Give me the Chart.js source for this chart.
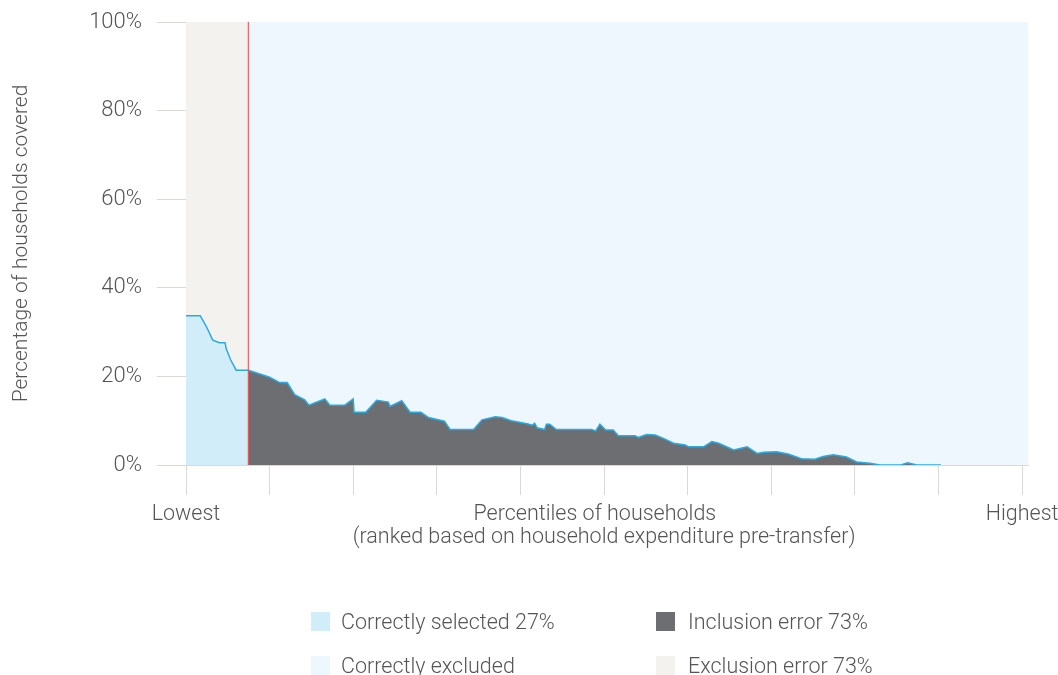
<!DOCTYPE html>
<html lang="en">
<head>
  <meta charset="UTF-8">
  <title>Targeting coverage</title>
  <script src="https://cdn.jsdelivr.net/npm/chart.js"></script>
  <style>
    body {
      margin: 0;
      background: #fff;
      font-family: 'Roboto', 'Liberation Sans', sans-serif;
      font-weight: 300;
      color: #555557;
    }
    .wrap {
      position: relative;
      width: 1058px;
      height: 675px;
      overflow: hidden;
    }
    .swatch {
      position: absolute;
      width: 19px;
      height: 19px;
    }
    .legend-text {
      position: absolute;
      font-size: 21.5px;
      line-height: 22px;
      white-space: nowrap;
    }
  </style>
</head>
<body>
  <div class="wrap">
    <canvas id="coverChart" width="1058" height="675"></canvas>
    <div id="legend"></div>
  </div>

  <script>
    // percentile position of the targeting cut-off
    const cutoff = 7.45;

    // curve of coverage, left of cut-off (correctly selected)
    const selectedX = [0, 1.7, 2.45, 3.2, 4.0, 4.67, 4.8, 5.35, 6.0, 7.45];
    const selectedY = [33.7, 33.7, 31.2, 28.2, 27.6, 27.6, 26.3, 23.7, 21.4, 21.4];

    // curve of coverage, right of cut-off (inclusion error)
    const inclusionX = [7.45, 10.0, 11.2, 12.1, 13.0, 14.2, 14.7, 16.6, 17.2, 19.0,
      20.0, 20.1, 21.5, 22.8, 24.2, 24.4, 25.8, 26.8, 28.1, 29.0,
      30.9, 31.6, 34.4, 35.4, 37.0, 37.8, 38.9, 40.8, 41.4, 41.7,
      42.0, 42.9, 43.1, 43.5, 44.3, 48.5, 49.0, 49.5, 50.2, 51.1,
      51.7, 53.7, 54.1, 55.1, 56.1, 57.1, 58.3, 59.7, 60.1, 61.9,
      62.9, 63.7, 65.5, 67.1, 68.3, 69.1, 70.6, 72.0, 73.6, 75.2,
      76.2, 77.4, 79.0, 80.2, 81.8, 83.0, 85.5, 86.3, 87.4, 90.3];
    const inclusionY = [21.4, 19.8, 18.6, 18.6, 15.9, 14.7, 13.5, 14.9, 13.5, 13.5,
      14.9, 11.9, 11.9, 14.6, 14.2, 13.2, 14.5, 11.9, 11.9, 10.7,
      9.9, 8.0, 8.0, 10.2, 10.9, 10.7, 10.0, 9.3, 9.0, 9.4,
      8.4, 8.0, 9.2, 9.2, 8.0, 8.0, 7.7, 9.2, 7.9, 7.9,
      6.6, 6.6, 6.2, 6.9, 6.8, 6.0, 4.9, 4.5, 4.1, 4.1,
      5.3, 4.9, 3.4, 4.1, 2.6, 2.9, 3.0, 2.5, 1.4, 1.3,
      1.9, 2.3, 1.8, 0.7, 0.4, 0, 0, 0.5, 0, 0];

    // x ticks every 10 percentiles; 48.9 only carries the first title line
    const xTickValues = [0, 10, 20, 30, 40, 48.9, 50, 60, 70, 80, 90, 100];
    const xTickLabels = {
      0: 'Lowest',
      48.9: 'Percentiles of households',
      50: ['', '(ranked based on household expenditure pre-transfer)'],
      100: 'Highest'
    };
    const yTickValues = [0, 20, 40, 60, 80, 100];

    const legendNames = ['Correctly selected 27%', 'Inclusion error 73%', 'Correctly excluded', 'Exclusion error 73%'];

    const colSelected = '#d2edfa';
    const colExcluded = '#eef7fd';
    const colInclusion = '#6d6e71';
    const colExclusion = '#f4f2ef';
    const lineBlue = '#29abe2';
    const axisGrey = '#ddd8d2';
    const textGrey = '#555557';

    const pts = (xs, ys) => xs.map((x, i) => ({ x: x, y: ys[i] }));

    new Chart(document.getElementById('coverChart'), {
      type: 'line',
      data: {
        datasets: [
          {
            label: 'cut-off',
            data: [{ x: cutoff, y: 0 }, { x: cutoff, y: 100 }],
            borderColor: '#e8433f',
            borderWidth: 1,
            pointRadius: 0,
            fill: false
          },
          {
            label: legendNames[0],
            data: pts(selectedX, selectedY),
            borderColor: lineBlue,
            backgroundColor: colSelected,
            borderWidth: 1.5,
            pointRadius: 0,
            fill: 'origin'
          },
          {
            label: legendNames[1],
            data: pts(inclusionX, inclusionY),
            borderColor: lineBlue,
            backgroundColor: colInclusion,
            borderWidth: 1.5,
            pointRadius: 0,
            fill: 'origin'
          },
          {
            label: legendNames[3],
            data: [{ x: 0, y: 100 }, { x: cutoff, y: 100 }],
            borderWidth: 0,
            borderColor: 'transparent',
            backgroundColor: colExclusion,
            pointRadius: 0,
            fill: 'origin'
          },
          {
            label: legendNames[2],
            data: [{ x: cutoff, y: 100 }, { x: 100.7, y: 100 }],
            borderWidth: 0,
            borderColor: 'transparent',
            backgroundColor: colExcluded,
            pointRadius: 0,
            fill: 'origin'
          }
        ]
      },
      options: {
        responsive: false,
        animation: false,
        layout: { padding: { top: 22, right: 30, left: 0, bottom: 0 } },
        scales: {
          x: {
            type: 'linear',
            min: 0,
            max: 100.7,
            afterBuildTicks: s => { s.ticks = xTickValues.map(v => ({ value: v })); },
            afterFit: s => { s.height = 210; s.paddingLeft = 0; s.paddingRight = 0; },
            border: { color: axisGrey, width: 1 },
            grid: {
              drawOnChartArea: false,
              drawTicks: true,
              tickLength: 30,
              color: c => (c.tick && c.tick.value === 48.9) ? 'rgba(0,0,0,0)' : axisGrey
            },
            ticks: {
              autoSkip: false,
              maxRotation: 0,
              padding: 9,
              color: textGrey,
              font: { family: 'Roboto', size: 21.5, weight: '300', lineHeight: 1.03 },
              callback: v => xTickLabels[v] || ''
            }
          },
          y: {
            min: 0,
            max: 100,
            afterBuildTicks: s => { s.ticks = yTickValues.map(v => ({ value: v })); },
            afterFit: s => { s.width = 186; s.paddingTop = 0; s.paddingBottom = 0; },
            border: { color: axisGrey, width: 1 },
            grid: { drawOnChartArea: false, drawTicks: true, tickLength: 29, color: axisGrey },
            ticks: {
              padding: 15,
              color: textGrey,
              font: { family: 'Roboto', size: 22, weight: '300' },
              callback: v => v + '%'
            },
            title: {
              display: true,
              text: 'Percentage of households covered',
              color: textGrey,
              font: { family: 'Roboto', size: 21, weight: '300' },
              padding: { top: 9, bottom: 0 }
            }
          }
        },
        plugins: {
          legend: { display: false },
          tooltip: { enabled: false }
        }
      }
    });

    // legend laid out in two columns below the chart: [swatch x, text x, row y]
    const legendSpots = [[311, 341, 612], [656, 688, 612], [311, 341, 656], [656, 688, 656]];
    const legendColors = [colSelected, colInclusion, colExcluded, colExclusion];
    const legend = document.getElementById('legend');
    legendNames.forEach((name, i) => {
      const [sx, tx, y] = legendSpots[i];
      const sw = document.createElement('div');
      sw.className = 'swatch';
      sw.style.left = sx + 'px';
      sw.style.top = y + 'px';
      sw.style.background = legendColors[i];
      legend.appendChild(sw);
      const txt = document.createElement('div');
      txt.className = 'legend-text';
      txt.style.left = tx + 'px';
      txt.style.top = (y - 1) + 'px';
      txt.textContent = name;
      legend.appendChild(txt);
    });
  </script>
</body>
</html>
